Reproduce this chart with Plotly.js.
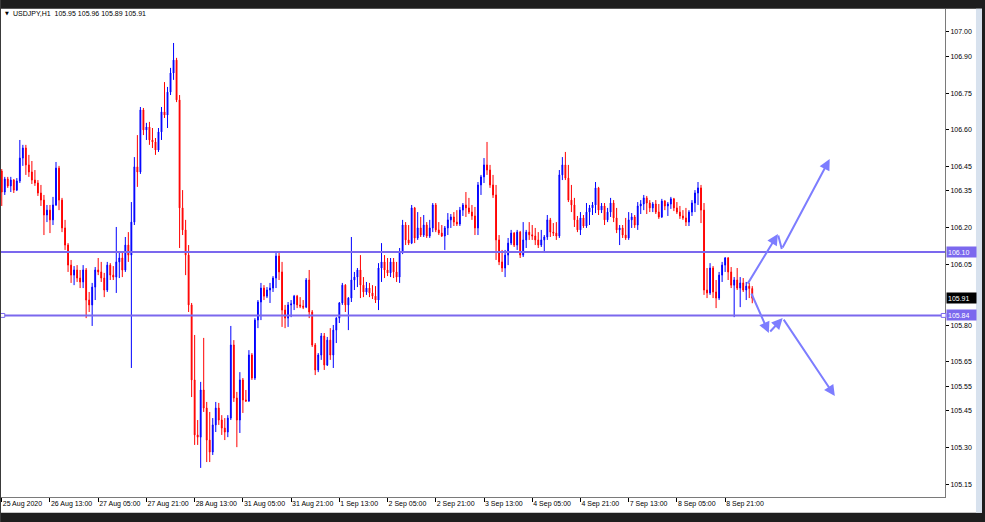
<!DOCTYPE html>
<html>
<head>
<meta charset="utf-8">
<script src="https://cdn.plot.ly/plotly-3.0.1.min.js"></script>
<style>
html,body{margin:0;padding:0;background:#ffffff;}
#chart{width:985px;height:522px;}
</style>
</head>
<body>
<div id="chart"></div>
<script>
// ---- data: USDJPY H1 bars ----
const symbolName = "USDJPY,H1";

const openP = [106.431,106.345,106.398,106.370,106.394,106.353,106.390,106.484,106.525,106.456,
106.427,106.394,106.382,106.341,106.312,106.251,106.271,106.231,106.292,106.443,
106.312,106.198,106.128,106.046,106.005,106.026,105.993,105.977,106.026,105.903,
105.883,105.956,106.026,106.018,105.993,105.944,106.046,106.005,105.997,106.059,
106.075,106.026,106.128,106.087,106.222,106.448,106.427,106.681,106.599,106.611,
106.558,106.550,106.517,106.591,106.673,106.660,106.754,106.832,106.885,106.722,
106.280,106.190,106.087,105.883,105.576,105.351,105.342,105.535,105.461,105.330,
105.281,105.392,105.461,105.412,105.379,105.363,105.420,105.719,105.502,105.412,
105.576,105.494,105.490,105.678,105.584,105.821,105.895,105.952,105.919,105.944,
105.952,105.993,106.083,106.018,105.862,105.829,105.883,105.887,105.919,105.883,
105.878,105.874,105.985,105.854,105.719,105.617,105.678,105.756,105.637,105.739,
105.678,105.780,105.829,105.891,105.964,105.883,105.911,105.985,105.997,106.026,
105.964,105.936,105.952,105.932,105.919,105.903,106.034,106.059,106.026,106.014,
106.059,106.018,105.997,106.100,106.210,106.149,106.136,106.280,106.157,106.198,
106.169,106.210,106.165,106.198,106.292,106.190,106.177,106.165,106.198,106.231,
106.243,106.222,106.214,106.271,106.292,106.280,106.263,106.247,106.198,106.374,
106.407,106.456,106.435,106.374,106.333,106.149,106.059,106.034,106.087,106.136,
106.177,106.128,106.181,106.087,106.149,106.181,106.170,106.165,106.149,106.128,
106.149,106.161,106.231,106.181,106.177,106.165,106.415,106.456,106.402,106.312,
106.292,106.231,106.190,106.239,106.206,106.263,106.280,106.292,106.362,106.271,
106.288,106.231,106.263,106.300,106.239,106.190,106.198,106.169,106.157,106.231,
106.243,106.210,106.288,106.296,106.321,106.300,106.280,106.296,106.263,106.243,
106.308,106.288,106.296,106.317,106.280,106.263,106.247,106.239,106.222,106.263,
106.300,106.341,106.362,106.271,105.944,105.932,106.034,105.936,105.911,106.005,
106.046,106.075,106.018,105.964,105.985,105.952,105.973,105.944,105.960,105.950];

const highP = [106.439,106.407,106.407,106.407,106.398,106.402,106.558,106.538,106.538,106.497,
106.472,106.435,106.394,106.374,106.333,106.292,106.292,106.325,106.468,106.452,
106.321,106.231,106.136,106.067,106.042,106.046,106.026,106.046,106.034,105.936,
105.973,106.038,106.075,106.059,106.014,106.059,106.054,106.042,106.202,106.096,
106.096,106.161,106.181,106.304,106.488,106.578,106.693,106.689,106.628,106.632,
106.607,106.566,106.607,106.693,106.795,106.775,106.853,106.955,106.894,106.742,
106.353,106.231,106.128,105.891,105.760,105.412,105.568,105.748,105.486,105.445,
105.420,105.486,105.482,105.432,105.420,105.432,105.797,105.739,105.527,105.608,
105.584,105.535,105.698,105.686,105.829,105.903,105.973,105.964,105.956,105.973,
106.001,106.100,106.096,106.059,105.883,105.895,105.903,105.924,105.924,105.915,
105.903,105.993,106.026,105.862,105.727,105.686,105.768,105.768,105.752,105.788,
105.801,105.833,105.895,105.973,105.968,105.915,106.161,106.018,106.034,106.087,
105.997,105.977,105.973,105.964,105.960,106.054,106.136,106.087,106.075,106.075,
106.075,106.059,106.116,106.231,106.222,106.210,106.292,106.284,106.263,106.243,
106.251,106.222,106.231,106.300,106.300,106.222,106.210,106.206,106.259,106.255,
106.263,106.271,106.284,106.300,106.345,106.321,106.292,106.284,106.386,106.415,
106.484,106.550,106.456,106.415,106.374,106.169,106.108,106.108,106.157,106.190,
106.181,106.190,106.186,106.222,106.190,106.222,106.210,106.198,106.181,106.190,
106.169,106.251,106.239,106.218,106.222,106.435,106.488,106.509,106.456,106.374,
106.321,106.247,106.263,106.251,106.300,106.292,106.304,106.386,106.366,106.300,
106.300,106.280,106.321,106.312,106.280,106.210,106.210,106.239,106.263,106.259,
106.251,106.304,106.312,106.333,106.329,106.312,106.304,106.312,106.296,106.317,
106.312,106.304,106.325,106.321,106.304,106.288,106.271,106.280,106.271,106.312,
106.353,106.386,106.374,106.300,106.034,106.054,106.042,105.985,106.018,106.059,
106.079,106.079,106.038,105.997,106.034,105.997,105.993,105.977,105.973,105.960];

const lowP = [106.288,106.333,106.362,106.345,106.341,106.349,106.382,106.452,106.415,106.407,
106.378,106.370,106.329,106.288,106.169,106.222,106.177,106.210,106.288,106.271,
106.181,106.108,106.018,105.973,105.964,105.977,105.952,105.952,105.829,105.854,
105.797,105.903,106.005,105.977,105.915,105.936,105.985,105.985,105.932,105.993,
105.997,106.018,106.059,105.625,106.210,106.366,106.419,106.578,106.558,106.538,
106.525,106.497,106.509,106.558,106.648,106.607,106.742,106.804,106.713,106.116,
106.169,106.005,105.854,105.506,105.310,105.310,105.216,105.445,105.240,105.240,
105.269,105.363,105.392,105.351,105.330,105.342,105.412,105.486,105.301,105.359,
105.441,105.486,105.486,105.576,105.576,105.788,105.821,105.903,105.911,105.891,
105.936,105.952,105.985,105.793,105.788,105.793,105.833,105.862,105.870,105.870,
105.866,105.870,105.829,105.711,105.596,105.608,105.658,105.617,105.633,105.658,
105.625,105.727,105.809,105.883,105.854,105.780,105.895,105.944,105.956,105.911,
105.915,105.924,105.915,105.907,105.891,105.862,105.977,105.993,106.001,105.997,
105.993,105.977,105.973,106.091,106.128,106.128,106.132,106.136,106.149,106.161,
106.161,106.157,106.157,106.181,106.181,106.169,106.161,106.108,106.169,106.198,
106.206,106.206,106.206,106.247,106.243,106.255,106.231,106.169,106.169,106.333,
106.382,106.415,106.362,106.321,106.067,106.046,106.018,105.997,106.046,106.128,
106.120,106.108,106.075,106.079,106.116,106.149,106.149,106.128,106.116,106.120,
106.100,106.149,106.161,106.165,106.149,106.157,106.394,106.394,106.304,106.263,
106.202,106.181,106.169,106.198,106.198,106.210,106.251,106.259,106.251,106.259,
106.210,106.222,106.243,106.222,106.177,106.128,106.157,106.149,106.149,106.198,
106.198,106.190,106.255,106.271,106.255,106.263,106.263,106.255,106.235,106.239,
106.271,106.247,106.276,106.267,106.255,106.235,106.231,106.206,106.206,106.247,
106.263,106.292,106.218,105.924,105.911,105.924,105.911,105.870,105.903,105.977,
106.018,105.985,105.952,105.833,105.944,105.874,105.936,105.903,105.911,105.890];

const closeP = [106.345,106.398,106.370,106.394,106.353,106.390,106.484,106.525,106.456,106.427,
106.394,106.382,106.341,106.312,106.251,106.271,106.231,106.292,106.443,106.312,
106.198,106.128,106.046,106.005,106.026,105.993,105.977,106.026,105.903,105.883,
105.956,106.026,106.018,105.993,105.944,106.046,106.005,105.997,106.059,106.075,
106.026,106.128,106.087,106.222,106.448,106.427,106.681,106.599,106.611,106.558,
106.550,106.517,106.591,106.673,106.660,106.754,106.832,106.885,106.722,106.280,
106.190,106.087,105.883,105.576,105.351,105.342,105.535,105.461,105.330,105.281,
105.392,105.461,105.412,105.379,105.363,105.420,105.719,105.502,105.412,105.576,
105.494,105.490,105.678,105.584,105.821,105.895,105.952,105.919,105.944,105.952,
105.993,106.083,106.018,105.862,105.829,105.883,105.887,105.919,105.883,105.878,
105.874,105.985,105.854,105.719,105.617,105.678,105.756,105.637,105.739,105.678,
105.780,105.829,105.891,105.964,105.883,105.911,105.985,105.997,106.026,105.964,
105.936,105.952,105.932,105.919,105.903,106.034,106.059,106.026,106.014,106.059,
106.018,105.997,106.100,106.210,106.149,106.136,106.280,106.157,106.198,106.169,
106.210,106.165,106.198,106.292,106.190,106.177,106.165,106.198,106.231,106.243,
106.222,106.214,106.271,106.292,106.280,106.263,106.247,106.198,106.374,106.407,
106.456,106.435,106.374,106.333,106.149,106.059,106.034,106.087,106.136,106.177,
106.128,106.181,106.087,106.149,106.181,106.170,106.165,106.149,106.128,106.149,
106.161,106.231,106.181,106.177,106.165,106.415,106.456,106.402,106.312,106.292,
106.231,106.190,106.239,106.206,106.263,106.280,106.292,106.362,106.271,106.288,
106.231,106.263,106.300,106.239,106.190,106.198,106.169,106.157,106.231,106.243,
106.210,106.288,106.296,106.321,106.300,106.280,106.296,106.263,106.243,106.308,
106.288,106.296,106.317,106.280,106.263,106.247,106.239,106.222,106.263,106.300,
106.341,106.362,106.271,105.944,105.932,106.034,105.936,105.911,106.005,106.046,
106.075,106.018,105.964,105.985,105.952,105.973,105.944,105.960,105.950,105.910];

// x-axis labels (bar index -> label)
const xTickIdx  = [0,16,32,48,64,80,96,112,128,144,160,176,192,208,224,240];
const xTickText = ["25 Aug 2020","26 Aug 13:00","27 Aug 05:00","27 Aug 21:00","28 Aug 13:00",
  "31 Aug 05:00","31 Aug 21:00","1 Sep 13:00","2 Sep 05:00","2 Sep 21:00","3 Sep 13:00",
  "4 Sep 05:00","4 Sep 21:00","7 Sep 13:00","8 Sep 05:00","8 Sep 21:00"];

// price scale labels
const yTickVals = [107.00,106.90,106.75,106.60,106.45,106.35,106.20,106.05,105.80,105.65,105.55,105.45,105.30,105.15];

// horizontal levels
const levelPrices = [106.10, 105.84];

// drawn arrows (bar index / price)
const upArrowX   = [247.2, 257.5, 258.8, 274.7];
const upArrowY   = [105.964, 106.173, 106.112, 106.480];
const upArrowHead = [true, false, true];
const downArrowX = [248.5, 254.5, 259.1, 276.4];
const downArrowY = [105.936, 105.768, 105.829, 105.510];
const downArrowHead = [true, true, true];

// ---- build chart ----
const FONT = "Liberation Sans, Arial, sans-serif";
const idx = openP.map((_, i) => i);
const n = openP.length;
const levelColor = "#7b68ee";
const arrowColor = "#7d7dff";

const trace = {
  type: "candlestick",
  x: idx, open: openP, high: highP, low: lowP, close: closeP,
  increasing: {line: {color: "#0000ff", width: 1}, fillcolor: "#0000ff"},
  decreasing: {line: {color: "#ff0000", width: 1}, fillcolor: "#ff0000"},
  whiskerwidth: 0,
  hoverinfo: "skip",
  showlegend: false
};

const annotations = [];
function addPath(xs, ys, heads) {
  for (let i = 0; i < xs.length - 1; i++) {
    annotations.push({
      x: xs[i+1], y: ys[i+1], ax: xs[i], ay: ys[i],
      xref: "x", yref: "y", axref: "x", ayref: "y",
      text: "", showarrow: true,
      arrowhead: heads[i] ? 2 : 0, arrowsize: 1.1, arrowwidth: 2,
      arrowcolor: arrowColor, standoff: 0, startstandoff: 0
    });
  }
}
addPath(upArrowX, upArrowY, upArrowHead);
addPath(downArrowX, downArrowY, downArrowHead);

// price boxes at right
levelPrices.forEach(p => {
  annotations.push({
    xref: "paper", yref: "y", x: 1, y: p, xanchor: "left", yanchor: "middle", xshift: 1,
    text: p.toFixed(2), showarrow: false, bgcolor: levelColor, borderpad: 1,
    width: 27, height: 8, align: "left",
    font: {family: FONT, size: 7, color: "#ffffff"}
  });
});
const lastClose = closeP[n-1];
annotations.push({
  xref: "paper", yref: "y", x: 1, y: lastClose, xanchor: "left", yanchor: "middle", xshift: 1,
  text: lastClose.toFixed(2), showarrow: false, bgcolor: "#000000", borderpad: 1,
  width: 27, height: 8, align: "left",
  font: {family: FONT, size: 7, color: "#ffffff"}
});

// header
annotations.push({
  xref: "paper", yref: "paper", x: 0.002, y: 0.9915, xanchor: "left", yanchor: "middle",
  text: "\u25BC", showarrow: false, font: {family: "DejaVu Sans", size: 5, color: "#000"}
});
annotations.push({
  xref: "paper", yref: "paper", x: 0.011, y: 0.9915, xanchor: "left", yanchor: "middle",
  text: symbolName + "\u00a0\u00a0" + [openP[n-1], highP[n-1], lowP[n-1], closeP[n-1]].map(v => v.toFixed(2)).join(" "),
  showarrow: false, font: {family: FONT, size: 7, color: "#000"}
});

const shapes = [];
levelPrices.forEach(p => {
  shapes.push({type: "line", xref: "paper", yref: "y", x0: 0, x1: 1, y0: p, y1: p,
    line: {color: levelColor, width: 2}});
});
// small end markers of the lower level
[[-0.001, 0.004], [0.996, 1.001]].forEach(([a, b]) => {
  shapes.push({type: "rect", xref: "paper", yref: "y", x0: a, x1: b,
    y0: levelPrices[1] - 0.008, y1: levelPrices[1] + 0.008,
    line: {color: levelColor, width: 1}, fillcolor: "#ffffff"});
});
// window frame
const dark = "#1e1e1e";
shapes.push({type: "rect", xref: "paper", yref: "paper", x0: -0.01, x1: 1.05, y0: 1.0005, y1: 1.03, line: {width: 0}, fillcolor: dark, layer: "above"});
shapes.push({type: "rect", xref: "paper", yref: "paper", x0: -0.01, x1: 1.05, y0: -0.0325, y1: -0.06, line: {width: 0}, fillcolor: dark, layer: "above"});
shapes.push({type: "rect", xref: "paper", yref: "paper", x0: 1.0328, x1: 1.0392, y0: -0.0325, y1: 1.0005, line: {width: 0}, fillcolor: "#d8e2ee", layer: "above"});
shapes.push({type: "rect", xref: "paper", yref: "paper", x0: 1.0392, x1: 1.05, y0: -0.06, y1: 1.03, line: {width: 0}, fillcolor: dark, layer: "above"});
shapes.push({type: "rect", xref: "paper", yref: "paper", x0: -0.01, x1: 0, y0: -0.06, y1: 1.03, line: {width: 0}, fillcolor: "#3a3a3a", layer: "above"});

const layout = {
  width: 985, height: 522,
  margin: {l: 1, r: 40, t: 9, b: 25, pad: 0},
  paper_bgcolor: "#ffffff", plot_bgcolor: "#ffffff",
  showlegend: false,
  boxgap: 0.6,
  font: {family: FONT, size: 7, color: "#000"},
  xaxis: {
    range: [-0.25, 312.95], fixedrange: true,
    rangeslider: {visible: false},
    showgrid: false, zeroline: false,
    showline: true, linecolor: "#7a7a7a", linewidth: 1,
    ticks: "outside", ticklen: 4, tickcolor: "#000", tickwidth: 1,
    tickvals: xTickIdx, ticktext: xTickText, tickangle: 0,
    ticklabelposition: "outside right",
    tickfont: {family: FONT, size: 7, color: "#000"}
  },
  yaxis: {
    range: [105.097, 107.094], fixedrange: true, side: "right",
    showgrid: false, zeroline: false,
    showline: true, linecolor: "#7a7a7a", linewidth: 1,
    ticks: "outside", ticklen: 3, tickcolor: "#000", tickwidth: 1,
    tickvals: yTickVals, ticktext: yTickVals.map(v => v.toFixed(2)),
    tickfont: {family: FONT, size: 7, color: "#000"}
  },
  shapes: shapes,
  annotations: annotations
};

Plotly.newPlot("chart", [trace], layout, {staticPlot: true, displayModeBar: false});
</script>
</body>
</html>
